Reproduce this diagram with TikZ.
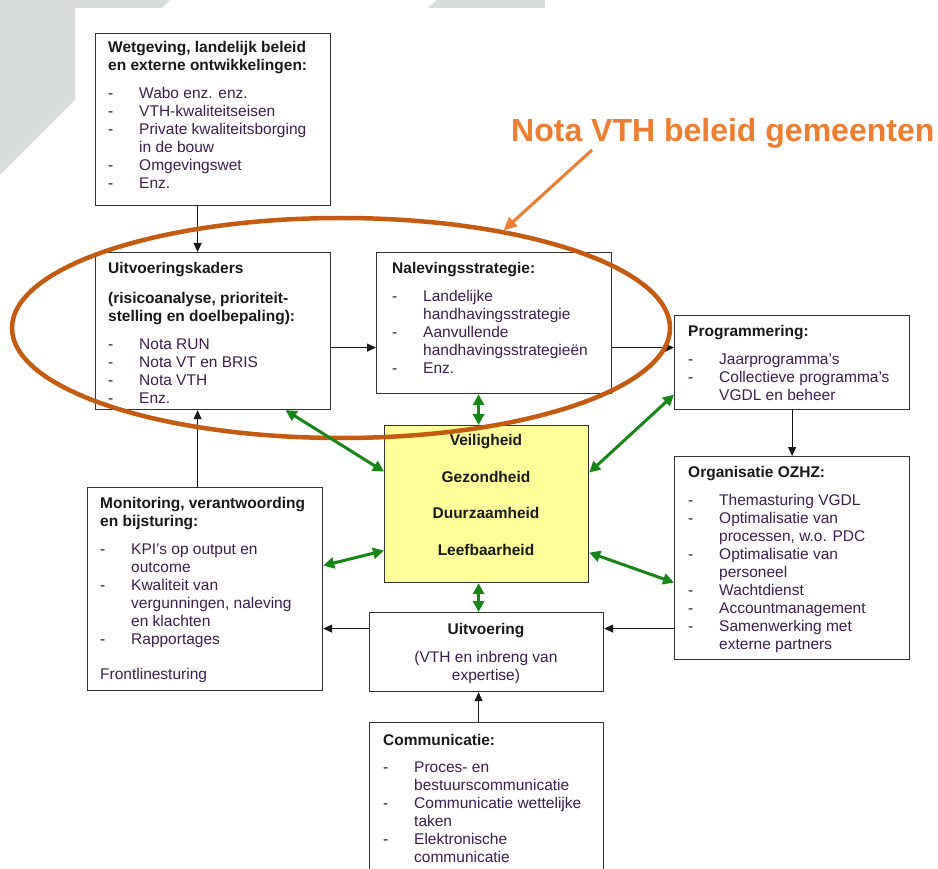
\documentclass[tikz,border=0pt]{standalone}
\usepackage{fontspec}
\setmainfont{Liberation Sans}
\usetikzlibrary{arrows.meta,calc,shapes.geometric}
\definecolor{bggray}{RGB}{216,221,219}
\definecolor{ringc}{RGB}{197,90,17}
\definecolor{notac}{RGB}{237,125,49}
\definecolor{greenc}{RGB}{22,135,22}
\definecolor{yellowc}{RGB}{255,255,153}
\definecolor{itemc}{RGB}{60,30,78}
\definecolor{headc}{RGB}{25,25,25}
\definecolor{framec}{RGB}{50,50,50}
\newcommand\hd[1]{{\bfseries\color{headc}#1}}
\newcommand\dsh{\makebox[31pt][l]{\color{headc}-}}
\newcommand\ind{\hspace*{31pt}}
\begin{document}
\begin{tikzpicture}[x=1pt,y=-1pt,
  font=\fontsize{15.5}{18}\selectfont,
  box/.style={draw=framec, line width=1.2pt, fill=white, inner sep=0pt, anchor=north west},
  txt/.style={inner sep=0pt, anchor=base west, text=itemc},
  ctxt/.style={inner sep=0pt, anchor=base, text=headc},
  blk/.style={-{Triangle[length=9pt,width=8pt]}, line width=1.1pt, draw=headc},
  grn/.style={{Triangle[length=11pt,width=11pt]}-{Triangle[length=11pt,width=11pt]}, line width=3pt, draw=greenc}]
\useasboundingbox (0,0) rectangle (938,869);
\fill[white] (0,0) rectangle (938,869);
% background decoration
\fill[bggray] (0,0) -- (170,0) -- (162,8) -- (75,8) -- (75,100) -- (0,175) -- cycle;
\fill[bggray] (437,0) -- (545,0) -- (545,8) -- (428,8) -- cycle;

% boxes
\node[box, minimum width=235pt, minimum height=172pt] (wet)  at (95,33)  {};
\node[box, minimum width=235pt, minimum height=157pt] (kad)  at (95,252) {};
\node[box, minimum width=235pt, minimum height=141pt] (nal)  at (376,252) {};
\node[box, minimum width=235pt, minimum height=94pt]  (prog) at (674,315) {};
\node[box, minimum width=235pt, minimum height=203pt] (org)  at (674,456) {};
\node[box, minimum width=235pt, minimum height=203pt] (mon)  at (87,487) {};
\node[box, minimum width=204pt, minimum height=157pt, fill=yellowc] (kern) at (384,425) {};
\node[box, minimum width=234pt, minimum height=79pt]  (uitv) at (369,612) {};
\node[box, minimum width=234pt, minimum height=170pt] (comm) at (369,722) {};

% texts
\node[txt] (wett) at (108,52.5) {\begin{tabular}[t]{@{}l@{}}
\hd{Wetgeving, landelijk beleid}\\
\hd{en externe ontwikkelingen:}\\[10pt]
\dsh Wabo enz. enz.\\
\dsh VTH-kwaliteitseisen\\
\dsh Private kwaliteitsborging\\
\ind in de bouw\\
\dsh Omgevingswet\\
\dsh Enz.
\end{tabular}};
\node[txt] (kadt) at (108,273.5) {\begin{tabular}[t]{@{}l@{}}
\hd{Uitvoeringskaders}\\[12pt]
\hd{(risicoanalyse, prioriteit-}\\
\hd{stelling en doelbepaling):}\\[10pt]
\dsh Nota RUN\\
\dsh Nota VT en BRIS\\
\dsh Nota VTH\\
\dsh Enz.
\end{tabular}};
\node[txt] (nalt) at (392,273.5) {\begin{tabular}[t]{@{}l@{}}
\hd{Nalevingsstrategie:}\\[10pt]
\dsh Landelijke\\
\ind handhavingsstrategie\\
\dsh Aanvullende\\
\ind handhavingsstrategieën\\
\dsh Enz.
\end{tabular}};
\node[txt] (progt) at (688,336.5) {\begin{tabular}[t]{@{}l@{}}
\hd{Programmering:}\\[10pt]
\dsh Jaarprogramma’s\\
\dsh Collectieve programma’s\\
\ind VGDL en beheer
\end{tabular}};
\node[txt] (orgt) at (688,477.5) {\begin{tabular}[t]{@{}l@{}}
\hd{Organisatie OZHZ:}\\[10pt]
\dsh Themasturing VGDL\\
\dsh Optimalisatie van\\
\ind processen, w.o. PDC\\
\dsh Optimalisatie van\\
\ind personeel\\
\dsh Wachtdienst\\
\dsh Accountmanagement\\
\dsh Samenwerking met\\
\ind externe partners
\end{tabular}};
\node[txt] (mont) at (100,508.5) {\begin{tabular}[t]{@{}l@{}}
\hd{Monitoring, verantwoording}\\
\hd{en bijsturing:}\\[10pt]
\dsh KPI’s op output en\\
\ind outcome\\
\dsh Kwaliteit van\\
\ind vergunningen, naleving\\
\ind en klachten\\
\dsh Rapportages\\[17pt]
Frontlinesturing
\end{tabular}};
\node[txt] (commt) at (383,745.5) {\begin{tabular}[t]{@{}l@{}}
\hd{Communicatie:}\\[9pt]
\dsh Proces- en\\
\ind bestuurscommunicatie\\
\dsh Communicatie wettelijke\\
\ind taken\\
\dsh Elektronische\\
\ind communicatie
\end{tabular}};
\node[ctxt] (kernt) at (486,445.5) {\bfseries\begin{tabular}[t]{@{}c@{}}
Veiligheid\\[18.7pt]
Gezondheid\\[18.7pt]
Duurzaamheid\\[18.7pt]
Leefbaarheid
\end{tabular}};
\node[ctxt] (uitvt) at (486,634.5) {\begin{tabular}[t]{@{}c@{}}
\hd{Uitvoering}\\[10pt]
\color{itemc}(VTH en inbreng van\\
\color{itemc}expertise)
\end{tabular}};

% black connectors
\draw[blk] ([xshift=-15.5pt]wet.south) coordinate (b1) -- (b1 |- kad.north);
\draw[blk] ([yshift=-16.5pt]kad.east) coordinate (b2) -- (b2 -| nal.west);
\draw[blk] ([yshift=-24.5pt]nal.east) coordinate (b3) -- (b3 -| prog.west);
\draw[blk] (prog.south) -- (prog.south |- org.north);
\draw[blk] ([yshift=-70.5pt]org.west) coordinate (b5) -- (b5 -| uitv.east);
\draw[blk] ([yshift=23.5pt]uitv.west) coordinate (b6) -- (b6 -| mon.east);
\draw[blk] ([xshift=-7.5pt]mon.north) coordinate (b7) -- (b7 |- kad.south);
\draw[blk] ([xshift=-8pt]comm.north) coordinate (b8) -- (b8 |- uitv.south);

% orange ring
\node[draw=ringc, line width=4.5pt, ellipse, minimum width=658pt, minimum height=220pt, inner sep=0pt] (ring) at (341,328) {};

% green connectors
\draw[grn] ([xshift=-15.5pt]nal.south) coordinate (g1) -- (g1 |- kern.north);
\draw[grn] ([xshift=72.5pt]kad.south) -- ([yshift=32.5pt]kern.west);
\draw[grn] ([yshift=-32pt]prog.west) -- ([yshift=31.5pt]kern.east);
\draw[grn] ([yshift=23.5pt]mon.east) -- ([yshift=-46.5pt]kern.west);
\draw[grn] ([yshift=-24.5pt]org.west) -- ([yshift=-48.5pt]kern.east);
\draw[grn] ([xshift=-8pt]kern.south) coordinate (g6) -- (g6 |- uitv.north);

% annotation
\node[inner sep=0pt, anchor=base west, text=notac, font=\fontsize{32}{36}\selectfont\bfseries] (nota) at (511,142) {Nota VTH beleid gemeenten};
\coordinate (nstart) at (592,150);
\draw[notac, line width=3pt, -{Triangle[length=13pt,width=12pt]}] (nstart) -- (ring.31);
\end{tikzpicture}
\end{document}
